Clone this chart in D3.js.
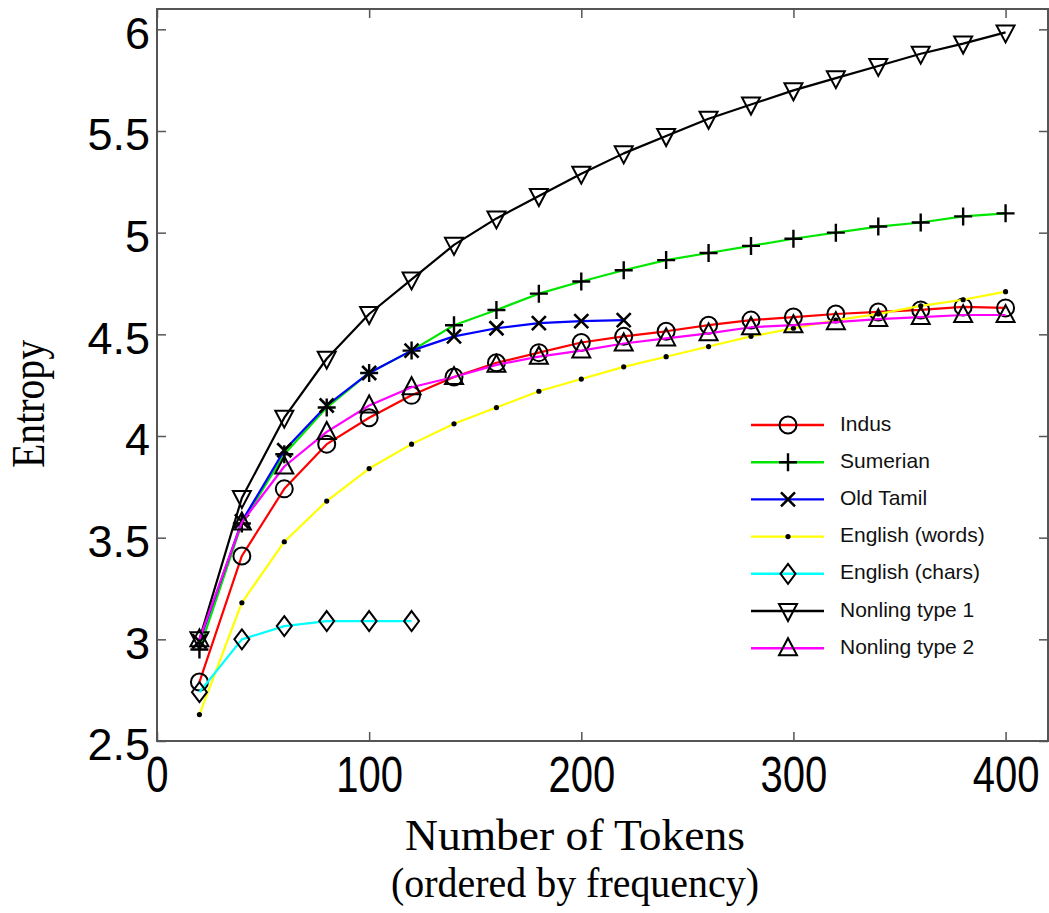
<!DOCTYPE html>
<html>
<head>
<meta charset="utf-8">
<script src="https://cdn.jsdelivr.net/npm/d3@7"></script>
<style>
  html, body { margin: 0; padding: 0; background: #fff; }
  svg { display: block; }
</style>
</head>
<body>
<svg id="chart" width="1049" height="913"></svg>
<script>
// ---------- data ----------
const tokens = [20,40,60,80,100,120,140,160,180,200,220,240,260,280,300,320,340,360,380,400];

const indus = [2.79,3.41,3.74,3.96,4.09,4.20,4.29,4.36,4.41,4.46,4.49,4.515,4.545,4.57,4.585,4.60,4.61,4.62,4.635,4.63];
const sumerian = [2.95,3.57,3.91,4.14,4.31,4.42,4.545,4.62,4.70,4.76,4.815,4.865,4.90,4.935,4.97,5.00,5.03,5.05,5.08,5.095];
const oldTamil = [2.99,3.58,3.93,4.15,4.31,4.42,4.49,4.53,4.555,4.565,4.57];
const englishWords = [2.63,3.18,3.48,3.68,3.84,3.96,4.06,4.14,4.22,4.28,4.34,4.39,4.44,4.49,4.53,4.57,4.60,4.64,4.67,4.71];
const englishChars = [2.74,3.0,3.065,3.09,3.09,3.09];
const nonling1 = [3.0,3.695,4.09,4.38,4.60,4.77,4.94,5.07,5.18,5.29,5.39,5.475,5.56,5.63,5.70,5.76,5.82,5.88,5.93,5.985];
const nonling2 = [3.0,3.575,3.85,4.02,4.15,4.24,4.29,4.35,4.39,4.42,4.455,4.48,4.505,4.535,4.545,4.56,4.575,4.585,4.595,4.595];

const seriesNames = ["Indus","Sumerian","Old Tamil","English (words)","English (chars)","Nonling type 1","Nonling type 2"];
const seriesValues = [indus, sumerian, oldTamil, englishWords, englishChars, nonling1, nonling2];
const seriesColors = ["#ff0000","#00e600","#0000ff","#ffff00","#00ffff","#000000","#ff00ff"];
const seriesMarkers = ["circle","plus","cross","dot","diamond","tridown","triup"];

const xTicks = [0,100,200,300,400];
const yTicks = [2.5,3,3.5,4,4.5,5,5.5,6];
const xTitle = "Number of Tokens";
const xSubtitle = "(ordered by frequency)";
const yTitle = "Entropy";

// ---------- layout ----------
const svg = d3.select("#chart");
const L = 157, R = 1048, T = 9, B = 741;
const x = d3.scaleLinear().domain([0,420]).range([L,R]);
const y = d3.scaleLinear().domain([2.5,6.1]).range([B,T]);

// marker drawing
function drawMarker(g, type, cx, cy) {
  const s = {stroke:"#000", "stroke-width":2, fill:"none"};
  let el;
  if (type === "circle") {
    el = g.append("circle").attr("cx",cx).attr("cy",cy).attr("r",8.5);
  } else if (type === "plus") {
    el = g.append("path").attr("d",`M${cx-9},${cy}H${cx+9}M${cx},${cy-9}V${cy+9}`);
    s["stroke-width"] = 2.4;
  } else if (type === "cross") {
    el = g.append("path").attr("d",`M${cx-7},${cy-7}L${cx+7},${cy+7}M${cx-7},${cy+7}L${cx+7},${cy-7}`);
    s["stroke-width"] = 2.6;
  } else if (type === "dot") {
    el = g.append("circle").attr("cx",cx).attr("cy",cy).attr("r",2.6);
    s.fill = "#000"; s.stroke = "none";
  } else if (type === "diamond") {
    el = g.append("path").attr("d",`M${cx},${cy-10}L${cx+7.5},${cy}L${cx},${cy+10}L${cx-7.5},${cy}Z`);
  } else if (type === "tridown") {
    el = g.append("path").attr("d",`M${cx-9},${cy-7}L${cx+9},${cy-7}L${cx},${cy+10}Z`);
  } else if (type === "triup") {
    el = g.append("path").attr("d",`M${cx-9},${cy+7}L${cx+9},${cy+7}L${cx},${cy-10}Z`);
  }
  for (const k in s) el.attr(k, s[k]);
}

// ---------- axes ----------
const axisColor = "#555";
const gx = svg.append("g").attr("transform",`translate(0,${B})`)
  .call(d3.axisBottom(x).tickValues(xTicks).tickFormat(d3.format("d")).tickSizeInner(-9).tickSizeOuter(0).tickPadding(16));
gx.select(".domain").remove();
gx.selectAll(".tick line").attr("stroke",axisColor).attr("stroke-width",1.5);
gx.selectAll(".tick text").attr("font-family","'Liberation Sans', Arial, sans-serif")
  .attr("font-size",50).attr("fill","#000").attr("transform","scale(0.8,1)");

const gxt = svg.append("g").attr("transform",`translate(0,${T})`)
  .call(d3.axisTop(x).tickValues(xTicks).tickFormat("").tickSizeInner(-9).tickSizeOuter(0));
gxt.select(".domain").remove();
gxt.selectAll(".tick line").attr("stroke",axisColor).attr("stroke-width",1.5);

const gy = svg.append("g").attr("transform",`translate(${L},0)`)
  .call(d3.axisLeft(y).tickValues(yTicks).tickFormat(d => String(d)).tickSizeInner(-9).tickSizeOuter(0).tickPadding(7));
gy.select(".domain").remove();
gy.selectAll(".tick line").attr("stroke",axisColor).attr("stroke-width",1.5);
gy.selectAll(".tick text").attr("font-family","'Liberation Sans', Arial, sans-serif")
  .attr("font-size",45).attr("fill","#000").attr("dy","0.42em");

const gyr = svg.append("g").attr("transform",`translate(${R},0)`)
  .call(d3.axisRight(y).tickValues(yTicks).tickFormat("").tickSizeInner(-9).tickSizeOuter(0));
gyr.select(".domain").remove();
gyr.selectAll(".tick line").attr("stroke",axisColor).attr("stroke-width",1.5);

svg.append("rect").attr("x",L).attr("y",T).attr("width",R-L).attr("height",B-T)
  .attr("fill","none").attr("stroke",axisColor).attr("stroke-width",2);

// ---------- titles ----------
svg.append("text").attr("x",575).attr("y",850).attr("text-anchor","middle")
  .attr("font-family","'Liberation Serif', 'Times New Roman', serif").attr("font-size",44)
  .attr("textLength",340).attr("lengthAdjust","spacingAndGlyphs").text(xTitle);
svg.append("text").attr("x",575).attr("y",897).attr("text-anchor","middle")
  .attr("font-family","'Liberation Serif', 'Times New Roman', serif").attr("font-size",42)
  .attr("textLength",368).attr("lengthAdjust","spacingAndGlyphs").text(xSubtitle);
svg.append("text").attr("transform","translate(44,404) rotate(-90)").attr("text-anchor","middle")
  .attr("font-family","'Liberation Serif', 'Times New Roman', serif").attr("font-size",46)
  .attr("textLength",128).attr("lengthAdjust","spacingAndGlyphs")
  .text(yTitle);

// ---------- series ----------
const line = d3.line().x(d => x(d[0])).y(d => y(d[1]));
const plot = svg.append("g");
seriesValues.forEach((vals, i) => {
  const pts = vals.map((v, j) => [tokens[j], v]);
  const g = plot.append("g");
  g.append("path").datum(pts).attr("d", line).attr("fill","none")
    .attr("stroke", seriesColors[i]).attr("stroke-width", 2.2).attr("stroke-linejoin","round");
  pts.forEach(p => drawMarker(g, seriesMarkers[i], x(p[0]), y(p[1])));
});

// ---------- legend ----------
const leg = svg.append("g");
seriesNames.forEach((name, i) => {
  const cy = 425 + i * 37.2;
  leg.append("line").attr("x1",751).attr("x2",824).attr("y1",cy).attr("y2",cy)
    .attr("stroke",seriesColors[i]).attr("stroke-width",2.4);
  drawMarker(leg, seriesMarkers[i], 788, cy);
  leg.append("text").attr("x",840).attr("y",cy+5.5)
    .attr("font-family","'Liberation Sans', Arial, sans-serif").attr("font-size",21)
    .attr("fill","#111").text(name);
});
</script>
</body>
</html>
